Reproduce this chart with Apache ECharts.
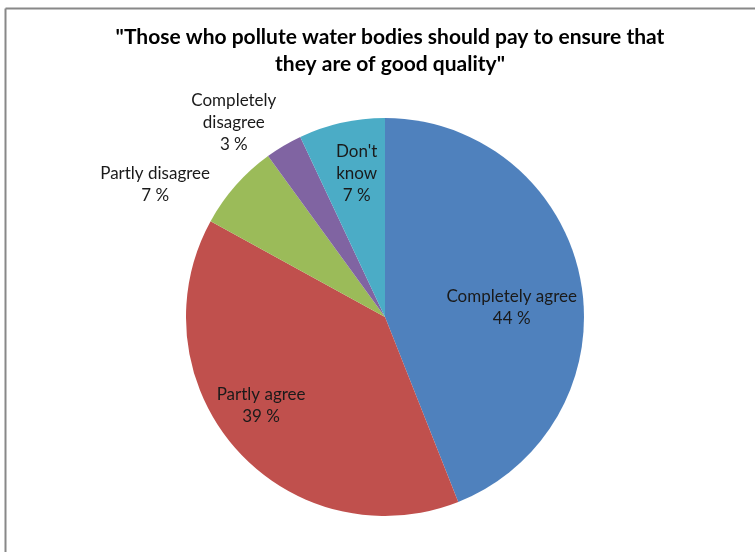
<!DOCTYPE html>
<html>
<head>
<meta charset="utf-8">
<script src="https://cdn.jsdelivr.net/npm/echarts@6/dist/echarts.min.js"></script>
<style>
html,body{margin:0;padding:0;background:#fff;}
#c{width:755px;height:552px;}
</style>
</head>
<body>
<div id="c"></div>
<script>
const categories = ['Completely agree', 'Partly agree', 'Partly disagree', 'Completely\ndisagree', "Don't\nknow"];
const values = [44, 39, 7, 3, 7];
const colors = ['#4F81BD', '#C0504D', '#9BBB59', '#8064A2', '#4BACC6'];
const titleText = '"Those who pollute water bodies should pay to ensure that\nthey are of good quality"';

const labelOffsets = [[26, 10], [-47, 21], [-153, -65], [-99, -106], [-6, -43]];

const chart = echarts.init(document.getElementById('c'));
chart.setOption({
  backgroundColor: '#fff',
  animation: false,
  graphic: [
    { type: 'line', shape: { x1: 5.5, y1: 8.5, x2: 755, y2: 8.5 }, style: { stroke: '#888', lineWidth: 2 } },
    { type: 'line', shape: { x1: 5.5, y1: 8.5, x2: 5.5, y2: 552 }, style: { stroke: '#888', lineWidth: 2 } }
  ],
  title: {
    text: titleText,
    left: 385,
    textAlign: 'center',
    top: 19,
    textStyle: { fontFamily: 'Lato, "Open Sans", sans-serif', fontSize: 21, fontWeight: 'bold', color: '#000', lineHeight: 27 }
  },
  series: [{
    type: 'pie',
    center: [385, 317],
    radius: 199,
    startAngle: 90,
    clockwise: true,
    avoidLabelOverlap: false,
    labelLine: { show: false },
    itemStyle: { borderWidth: 0 },
    emphasis: { disabled: true },
    data: categories.map((n, i) => ({
      name: n,
      value: values[i],
      itemStyle: { color: colors[i] },
      label: { offset: labelOffsets[i] }
    })),
    label: {
      show: true,
      position: 'inside',
      formatter: p => p.name + '\n' + p.value + ' %',
      fontFamily: 'Lato, "Open Sans", sans-serif',
      fontSize: 17,
      lineHeight: 22,
      color: '#1a1a1a',
      align: 'center'
    }
  }]
});
</script>
</body>
</html>
